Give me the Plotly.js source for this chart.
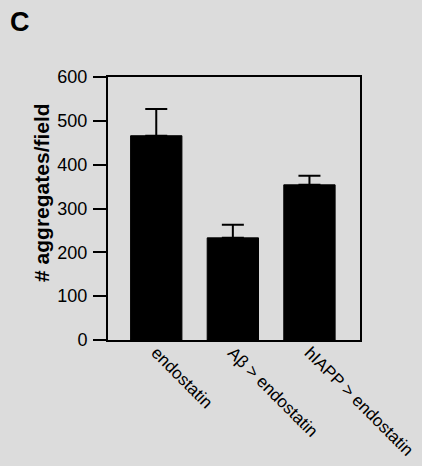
<!DOCTYPE html>
<html>
<head>
<meta charset="utf-8">
<script src="https://cdn.plot.ly/plotly-3.0.1.min.js"></script>
<style>html,body{margin:0;padding:0;background:#dcdcdc;}</style>
</head>
<body>
<div id="chart" style="width:422px;height:466px;"></div>
<script>
const categories = ["endostatin", "Aβ > endostatin", "hIAPP > endostatin"];
const means = [466, 233, 354];
const errorsUp = [61, 30, 21];
const errorsDown = [0, 0, 0];
const yTicks = [0, 100, 200, 300, 400, 500, 600];

const font = "'Liberation Sans', Arial, Helvetica, sans-serif";

const trace = {
  type: "bar",
  x: categories,
  y: means,
  width: 0.67,
  marker: {color: "#000000", line: {color: "#000000", width: 1}},
  error_y: {
    type: "data", symmetric: false, array: errorsUp, arrayminus: errorsDown,
    color: "#000000", thickness: 2, width: 11
  },
  hoverinfo: "none"
};

const layout = {
  width: 422, height: 466,
  margin: {l: 108, r: 62, t: 77, b: 126, pad: 0},
  paper_bgcolor: "#dcdcdc",
  plot_bgcolor: "#dcdcdc",
  showlegend: false,
  font: {family: font, color: "#000000", size: 18},
  xaxis: {
    type: "category",
    range: [-0.63, 2.66],
    showline: true, linecolor: "#000000", linewidth: 2, mirror: true,
    showgrid: false, zeroline: false,
    ticks: "", tickangle: 45, ticklabelstandoff: -6,
    tickfont: {family: font, size: 17, color: "#000000"}
  },
  yaxis: {
    range: [0, 600],
    tickvals: yTicks,
    ticktext: yTicks.map(String),
    showline: true, linecolor: "#000000", linewidth: 2, mirror: true,
    showgrid: false, zeroline: false,
    ticks: "outside", ticklen: 13, tickwidth: 2, tickcolor: "#000000",
    ticklabelstandoff: 2,
    tickfont: {family: font, size: 18, color: "#000000"}
  },
  annotations: [
    {
      text: "<b># aggregates/field</b>",
      xref: "paper", yref: "paper",
      x: -0.264, y: 0.561,
      xanchor: "center", yanchor: "middle",
      textangle: -90, showarrow: false,
      font: {family: font, size: 21, color: "#000000"}
    },
    {
      text: "<b>C</b>",
      xref: "paper", yref: "paper",
      x: -0.351, y: (340 - 22) / 263,
      xanchor: "center", yanchor: "middle",
      showarrow: false,
      font: {family: font, size: 27, color: "#000000"}
    }
  ]
};

Plotly.newPlot("chart", [trace], layout, {displayModeBar: false, staticPlot: true});
</script>
</body>
</html>
